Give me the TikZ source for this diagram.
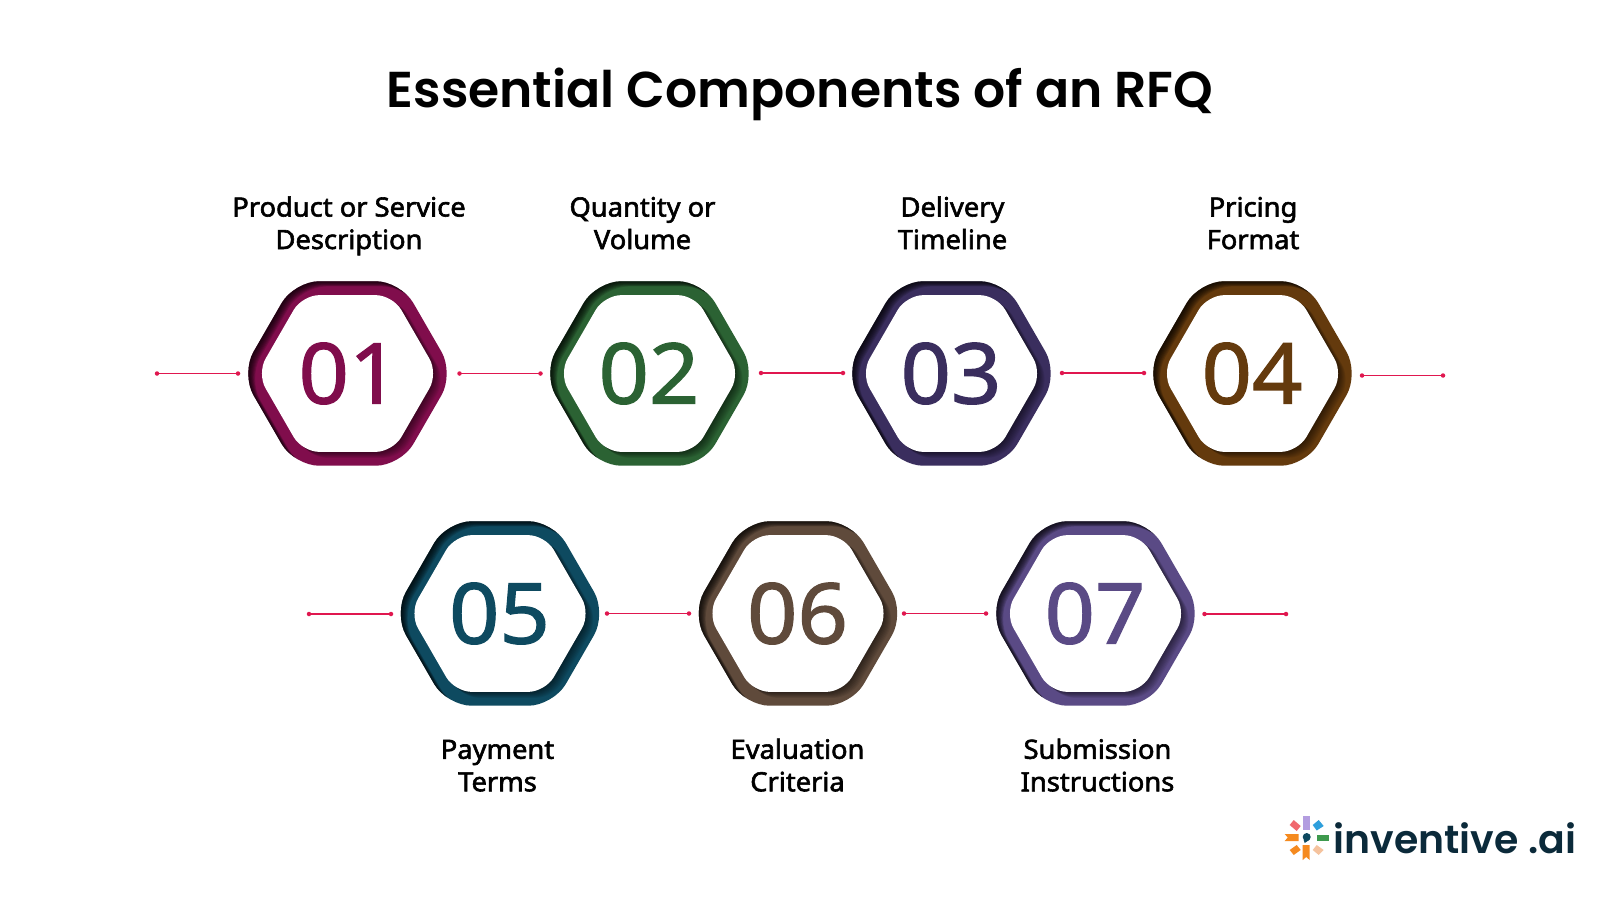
\documentclass[tikz,border=0pt]{standalone}
\usepackage{fontspec}
\setmainfont{Noto Sans}
\newfontfamily\titlefont{Poppins}[BoldFont={Poppins SemiBold}]
\newfontfamily\labelfont{Noto Sans}[FakeBold=2.2,FakeStretch=1.03]
\newfontfamily\numfont{Noto Sans}[FakeBold=1.4,FakeStretch=1.05]
\newfontfamily\logofont{Poppins SemiBold}
\definecolor{cA}{HTML}{800D4C}
\definecolor{cB}{HTML}{2B6233}
\definecolor{cC}{HTML}{3A2E5E}
\definecolor{cD}{HTML}{643A0D}
\definecolor{cE}{HTML}{0E4A60}
\definecolor{cF}{HTML}{5F4A3B}
\definecolor{cG}{HTML}{5A4A85}
\definecolor{linkc}{HTML}{E0174F}
\definecolor{logotext}{HTML}{0B2A3A}
\definecolor{lgCoral}{HTML}{F0686E}
\definecolor{lgBlue}{HTML}{2E9FDC}
\definecolor{lgGreen}{HTML}{3E9A4E}
\definecolor{lgPeach}{HTML}{F5C39E}
\definecolor{lgOrange}{HTML}{F58A1F}
\definecolor{lgPurple}{HTML}{B39DE0}
\tikzset{
  titletext/.style={font=\titlefont\bfseries\fontsize{50.4}{56}\selectfont,text=black,inner sep=0pt},
  labeltext/.style={font=\labelfont\fontsize{26.5}{32.5}\selectfont,text=black,align=center,inner sep=0pt},
  numtext/.style={font=\numfont\fontsize{84}{90}\selectfont,inner sep=0pt},
  link/.style={draw=linkc,line width=1.4pt},
  linkdot/.style={fill=linkc,circle,inner sep=0pt,minimum size=4.5pt},
  outerhex/.style={rounded corners=25pt},
  innerhex/.style={rounded corners=17pt},
}
\newcommand\hexp[3]{([shift={(#2,#3)}]90:{0.866*#1}) -- ([shift={(#2,#3)}]60:#1) -- ([shift={(#2,#3)}]0:#1) -- ([shift={(#2,#3)}]-60:#1) -- ([shift={(#2,#3)}]-120:#1) -- ([shift={(#2,#3)}]180:#1) -- ([shift={(#2,#3)}]120:#1) -- cycle}
\newcommand\hexring[5]{%
  \begin{scope}[shift={(#2,#3)}]
    \fill[#4,outerhex] \hexp{106.5}{0}{0};
    \begin{scope}[outerhex]
      \clip \hexp{106.5}{0}{0};
      \foreach \k in {1,...,8}{
        \fill[black,opacity=.15,even odd rule,outerhex] (-150,-150) rectangle (150,150) \hexp{106.5}{\k*.85}{\k*.65};
        \fill[black,opacity=.075,innerhex] \hexp{90.5}{\k*.95}{\k*.75};
      }
    \end{scope}
    \fill[white,innerhex] \hexp{90.5}{0}{0};
  \end{scope}
  \node[numtext,text=#4] (#1) at (#2-0.5,#3) {#5};
}
\newcommand\linkpair[4]{%
  \coordinate (#1a) at (#2,#4); \coordinate (#1b) at (#3,#4);
  \draw[link] (#1a) -- (#1b);
  \node[linkdot] at (#1a) {}; \node[linkdot] at (#1b) {};
}
\begin{document}
\begin{tikzpicture}[x=1pt,y=-1pt]
\useasboundingbox (0,0) rectangle (1600,900);
\fill[white] (0,0) rectangle (1600,900);
\node[titletext] (title) at (800,94) {\textbf{Essential Components of an RFQ}};

\node[labeltext] (l1) at (349,226.25) {\strut Product or Service\\\strut Description};
\node[labeltext] (l2) at (642.5,226.25) {\strut Quantity or\\\strut Volume};
\node[labeltext] (l3) at (952.5,226.25) {\strut Delivery\\\strut Timeline};
\node[labeltext] (l4) at (1253,226.25) {\strut Pricing\\\strut Format};
\node[labeltext] (l5) at (497.5,768.5) {\strut Payment\\\strut Terms};
\node[labeltext] (l6) at (797.5,768.5) {\strut Evaluation\\\strut Criteria};
\node[labeltext] (l7) at (1097.5,768.5) {\strut Submission\\\strut Instructions};

\hexring{h1}{347.5}{373.5}{cA}{\hspace{4pt}01}
\hexring{h2}{649.5}{373.5}{cB}{02}
\hexring{h3}{951.5}{373.5}{cC}{03}
\hexring{h4}{1252.5}{373.5}{cD}{04}
\hexring{h5}{500}{613.5}{cE}{05}
\hexring{h6}{798}{613.5}{cF}{06}
\hexring{h7}{1095.5}{613.5}{cG}{07}

\linkpair{a}{157}{238}{373.5}
\linkpair{b}{459.5}{540.5}{373.5}
\linkpair{c}{761}{843}{373}
\linkpair{d}{1062}{1144}{373}
\linkpair{e}{1362}{1443}{375.5}
\linkpair{f}{309}{391}{614}
\linkpair{g}{607}{689}{613.5}
\linkpair{i}{904}{986}{613.5}
\linkpair{j}{1204.5}{1286}{614}

% logo
\begin{scope}[shift={(1306.7,838)}]
  \fill[lgPurple] (-4,-22) rectangle (3,-8);
  \fill[lgBlue] (6,-13) -- (12,-18) -- (17,-12) -- (10,-7.5) -- cycle;
  \fill[lgGreen] (10,-3.5) rectangle (22,3);
  \fill[lgPeach] (6,12) -- (10,7) -- (17,12) -- (12,17) -- cycle;
  \fill[lgOrange] (-4,7) -- (3,7) -- (3,22) -- (-0.5,19) -- (-4,22) -- cycle;
  \fill[lgOrange] (-17,12) -- (-10,7) -- (-6,12) -- (-13,17) -- cycle;
  \fill[lgOrange] (-8,-4) -- (-8,3) -- (-22,3) -- (-19,-0.5) -- (-22,-4) -- cycle;
  \fill[lgCoral] (-17,-13) -- (-13,-18) -- (-6,-12) -- (-10,-7) -- cycle;
  \fill[cE] (0,-1) circle (4);
  \fill[cE] (-3,2) -- (2.5,2) -- (-2,5) -- cycle;
\end{scope}
\node[font=\logofont\fontsize{39.4}{44}\selectfont,text=logotext,inner sep=0pt,anchor=base west] (logo) at (1333.5,853) {inventive .ai};
\end{tikzpicture}
\end{document}
